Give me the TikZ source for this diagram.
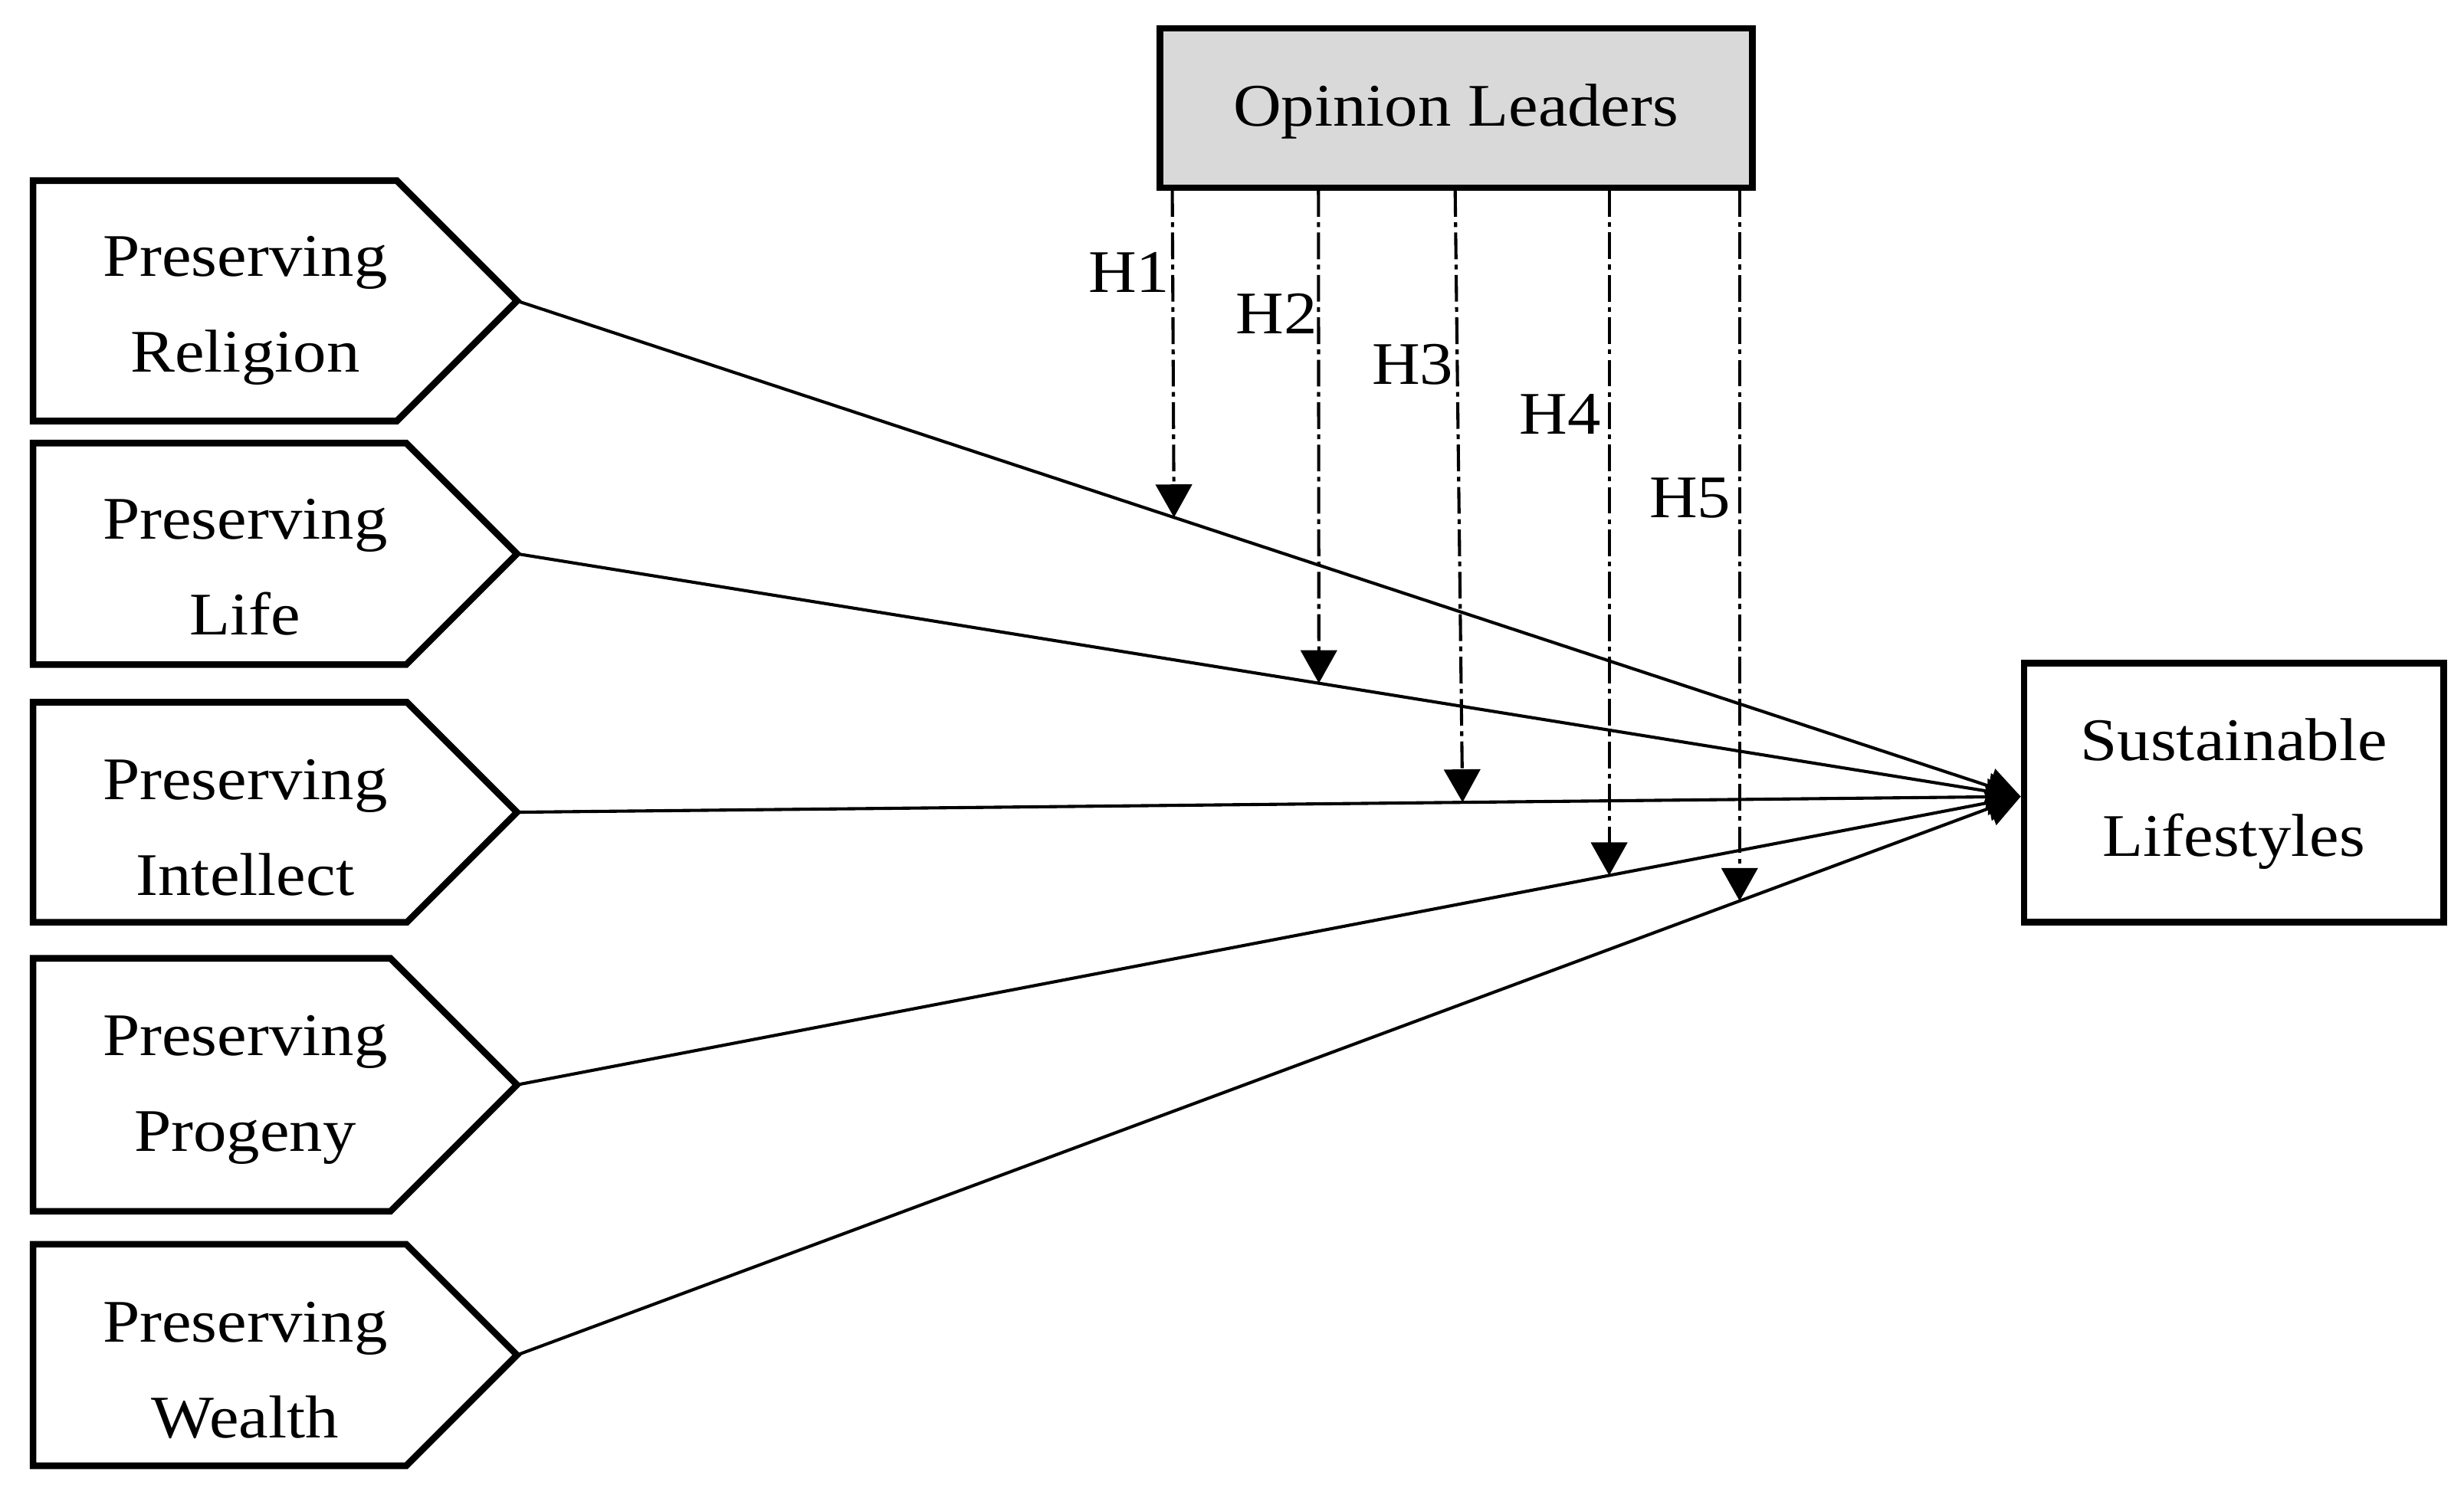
\documentclass[tikz,border=0pt]{standalone}
\usepackage{fontspec}
\setmainfont{Liberation Serif}[FakeStretch=1.1]
\usetikzlibrary{arrows.meta,intersections,calc}
\definecolor{olgray}{HTML}{D9D9D9}
\begin{document}
\begin{tikzpicture}[x=1pt,y=-1pt,
  boxline/.style={line width=4.2pt, line join=miter},
  lbl/.style={font=\fontsize{38.5}{62}\selectfont, inner sep=0pt, anchor=base},
  conn/.style={line width=2pt, -{Triangle[length=21pt,width=23pt]}},
  modline/.style={line width=2pt, dash pattern=on 17pt off 3.5pt on 3pt off 3.5pt, -{Triangle[length=21pt,width=23pt]}}]
\useasboundingbox[fill=white] (0,0) rectangle (1568,947);

% predictor pentagons
\foreach \nm/\t/\b/\bl/\tx in {rel/115/268/176/Religion, life/282/423/343/Life, int/447/587/509/Intellect, prog/610/771/672/Progeny, wealth/792/933/854/Wealth}{
  \pgfmathsetmacro\m{(\t+\b)/2}
  \pgfmathsetmacro\c{329-(\b-\t)/2}
  \pgfmathsetmacro\blb{\bl+61}
  \draw[boxline] (21,\t) -- (\c,\t) -- (329,\m) -- (\c,\b) -- (21,\b) -- cycle;
  \coordinate (\nm-tip) at (329,\m);
  \node[lbl] (\nm-a) at (156,\bl) {Preserving};
  \node[lbl] (\nm-b) at (156,\blb) {\tx};
}

% moderator and outcome
\node[boxline, draw, fill=olgray, minimum width=377pt, minimum height=101.5pt, inner sep=0pt] (ol) at (926.5,68.75) {};
\node[lbl] (oltext) at (926.5,80) {Opinion Leaders};
\node[boxline, draw, minimum width=267pt, minimum height=165pt, inner sep=0pt] (sus) at (1421.5,504.5) {};
\node[lbl] (susa) at (1421.5,484) {Sustainable};
\node[lbl] (susb) at (1421.5,545) {Lifestyles};
\coordinate (conv) at ($(sus.west)+(0,2.5)$);

% main connectors
\draw[conn, name path=relP] (rel-tip) -- (conv);
\draw[conn, name path=lifeP] (life-tip) -- (conv);
\draw[conn, name path=intP] (int-tip) -- (conv);
\draw[conn, name path=progP] (prog-tip) -- (conv);
\draw[conn, name path=wealthP] (wealth-tip) -- (conv);

% moderating (dash-dot) arrows
\coordinate (h1s) at (746,121);   \coordinate (h1e) at (749,700);
\coordinate (h2s) at (839,121);   \coordinate (h2e) at (839.5,700);
\coordinate (h3s) at (926,121);   \coordinate (h3e) at (933,700);
\coordinate (h4s) at (1024,121);  \coordinate (h4e) at (1024,700);
\coordinate (h5s) at (1107,121);  \coordinate (h5e) at (1107,700);
\path[name path=v1] (h1s) -- (h1e);
\path[name path=v2] (h2s) -- (h2e);
\path[name path=v3] (h3s) -- (h3e);
\path[name path=v4] (h4s) -- (h4e);
\path[name path=v5] (h5s) -- (h5e);
\path[name intersections={of=v1 and relP, by=h1t}];
\path[name intersections={of=v2 and lifeP, by=h2t}];
\path[name intersections={of=v3 and intP, by=h3t}];
\path[name intersections={of=v4 and progP, by=h4t}];
\path[name intersections={of=v5 and wealthP, by=h5t}];
\draw[modline] (h1s) -- (h1t);
\draw[modline] (h2s) -- (h2t);
\draw[modline] (h3s) -- (h3t);
\draw[modline] (h4s) -- (h4t);
\draw[modline] (h5s) -- (h5t);

% hypothesis labels
\node[lbl] (H1) at (718.5,186) {H1};
\node[lbl] (H2) at (812.5,212.5) {H2};
\node[lbl] (H3) at (899,244.5) {H3};
\node[lbl] (H4) at (993,276.5) {H4};
\node[lbl] (H5) at (1075.5,329.5) {H5};
\end{tikzpicture}
\end{document}
